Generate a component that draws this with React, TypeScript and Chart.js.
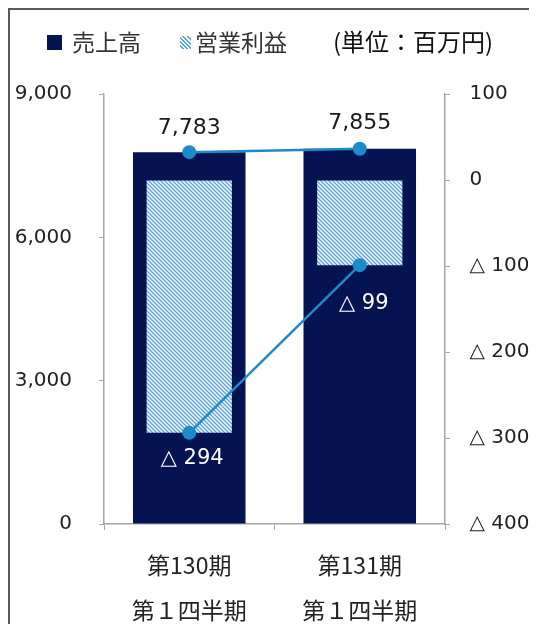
import React, { useEffect, useRef } from "react";
import { Chart, registerables } from "chart.js";

Chart.register(...registerables);

// ---- data ----
const categories = [
  ["第130期", "第１四半期"],
  ["第131期", "第１四半期"],
];
const salesValues = [7783, 7855];
const profitValues = [-294, -99];
const leftTicks = [0, 3000, 6000, 9000];
const rightTicks = [-400, -300, -200, -100, 0, 100];
const legendSales = "売上高";
const legendProfit = "営業利益";
const unitLabel = "(単位：百万円)";

// ---- styles ----
const NAVY = "#061352";
const LINE = "#1b8ccb";
const AXIS = "#a6a6a6";
const TEXT = "#222222";
const TICK_FONT = "'DejaVu Sans', Verdana, sans-serif";
const CJK_FONT = "'Noto Sans CJK JP', 'Noto Sans', sans-serif";

const fmtLeft = (v: number) => v.toLocaleString("en-US");
const fmtRight = (v: number) => (v < 0 ? "△ " + Math.abs(v) : String(v));

function makeHatch(): CanvasPattern | string {
  const c = document.createElement("canvas");
  c.width = 4;
  c.height = 4;
  const g = c.getContext("2d");
  if (!g) return "#8fc0e6";
  g.fillStyle = "#f4f9fd";
  g.fillRect(0, 0, 4, 4);
  g.strokeStyle = "#5aa2dc";
  g.lineWidth = 1.3;
  g.beginPath();
  g.moveTo(-1, -1);
  g.lineTo(5, 5);
  g.moveTo(-1, 3);
  g.lineTo(1, 5);
  g.moveTo(3, -1);
  g.lineTo(5, 1);
  g.stroke();
  return g.createPattern(c, "repeat") || "#8fc0e6";
}

const SALES_LABEL_OFFSETS = [
  [0, -24],
  [0, -25],
];
const PROFIT_LABEL_OFFSETS = [
  [3, 26],
  [4, 38],
];

const valueLabelPlugin = {
  id: "valueLabels",
  afterDatasetsDraw(chart: any) {
    const ctx = chart.ctx as CanvasRenderingContext2D;
    ctx.save();
    ctx.textAlign = "center";
    ctx.textBaseline = "middle";
    const salesMeta = chart.getDatasetMeta(2);
    ctx.font = `22px ${TICK_FONT}`;
    ctx.fillStyle = "#1a1a1a";
    salesMeta.data.forEach((pt: any, i: number) => {
      const [dx, dy] = SALES_LABEL_OFFSETS[i];
      ctx.fillText(fmtLeft(salesValues[i]), pt.x + dx, pt.y + dy);
    });
    const profitMeta = chart.getDatasetMeta(3);
    ctx.font = `21px ${TICK_FONT}`;
    ctx.fillStyle = "#ffffff";
    profitMeta.data.forEach((pt: any, i: number) => {
      const [dx, dy] = PROFIT_LABEL_OFFSETS[i];
      ctx.fillText(fmtRight(profitValues[i]), pt.x + dx, pt.y + dy);
    });
    ctx.restore();
  },
};

export default function App() {
  const canvasRef = useRef<HTMLCanvasElement | null>(null);

  useEffect(() => {
    const canvas = canvasRef.current;
    if (!canvas) return;
    const hatch = makeHatch();
    const chart = new Chart(canvas, {
      type: "bar",
      data: {
        labels: categories as any,
        datasets: [
          {
            type: "bar",
            label: legendSales,
            data: salesValues,
            yAxisID: "y",
            backgroundColor: NAVY,
            barPercentage: 0.66,
            categoryPercentage: 1,
            grouped: false,
            order: 2,
          } as any,
          {
            type: "bar",
            label: legendProfit,
            data: profitValues,
            yAxisID: "y1",
            backgroundColor: hatch,
            barPercentage: 0.5,
            categoryPercentage: 1,
            grouped: false,
            order: 1,
          } as any,
          {
            type: "line",
            label: legendSales + "推移",
            data: salesValues,
            yAxisID: "y",
            borderColor: LINE,
            backgroundColor: LINE,
            borderWidth: 2.5,
            pointRadius: 7,
            pointBorderWidth: 0,
            order: 0,
          } as any,
          {
            type: "line",
            label: legendProfit + "推移",
            data: profitValues,
            yAxisID: "y1",
            borderColor: LINE,
            backgroundColor: LINE,
            borderWidth: 2.5,
            pointRadius: 7,
            pointBorderWidth: 0,
            order: 0,
          } as any,
        ],
      },
      options: {
        responsive: false,
        animation: false,
        layout: { padding: { top: 84, left: 0, right: 0, bottom: 0 } },
        plugins: {
          legend: { display: false },
          tooltip: { enabled: false },
        },
        scales: {
          x: {
            grid: {
              display: true,
              drawOnChartArea: false,
              tickLength: 6,
              color: AXIS,
              offset: true,
            },
            border: { color: AXIS, width: 1.5 },
            ticks: {
              color: TEXT,
              padding: 12.5,
              font: { family: CJK_FONT, size: 23, lineHeight: 45 / 23 },
            },
            afterFit: (s: any) => {
              s.height = 100;
            },
          },
          y: {
            position: "left",
            min: leftTicks[0],
            max: leftTicks[leftTicks.length - 1],
            afterBuildTicks: (s: any) => {
              s.ticks = leftTicks.map((v) => ({ value: v }));
            },
            ticks: {
              color: TEXT,
              padding: 27,
              font: { family: TICK_FONT, size: 20 },
              callback: (v: any) => fmtLeft(Number(v)),
            },
            grid: { drawOnChartArea: false, tickLength: 5, color: AXIS },
            border: { color: AXIS, width: 1.5 },
            afterFit: (s: any) => {
              s.width = 94;
            },
          },
          y1: {
            position: "right",
            min: rightTicks[0],
            max: rightTicks[rightTicks.length - 1],
            afterBuildTicks: (s: any) => {
              s.ticks = rightTicks.map((v) => ({ value: v }));
            },
            ticks: {
              color: TEXT,
              padding: 19.5,
              font: { family: TICK_FONT, size: 20 },
              callback: (v: any) => fmtRight(Number(v)),
            },
            grid: { drawOnChartArea: false, tickLength: 5, color: AXIS },
            border: { color: AXIS, width: 1.5 },
            afterFit: (s: any) => {
              s.width = 84;
            },
          },
        },
      } as any,
      plugins: [valueLabelPlugin],
    });
    return () => chart.destroy();
  }, []);

  const legendText: React.CSSProperties = {
    position: "absolute",
    fontFamily: CJK_FONT,
    fontSize: 23,
    lineHeight: "23px",
    color: "#333",
    whiteSpace: "nowrap",
  };

  return (
    <div
      style={{
        position: "relative",
        width: 521,
        height: 616,
        boxSizing: "border-box",
        borderTop: "2px solid #5a5a5a",
        borderLeft: "2px solid #5a5a5a",
        background: "#fff",
        overflow: "hidden",
      }}
    >
      <div
        style={{
          position: "absolute",
          left: 37,
          top: 25,
          width: 15,
          height: 15,
          background: NAVY,
        }}
      />
      <span style={{ ...legendText, left: 62, top: 20 }}>{legendSales}</span>
      <div
        style={{
          position: "absolute",
          left: 170,
          top: 26,
          width: 11,
          height: 13,
          background:
            "repeating-linear-gradient(45deg, #f4f9fd 0px, #f4f9fd 1.5px, #5aa2dc 1.5px, #5aa2dc 3px)",
        }}
      />
      <span style={{ ...legendText, left: 185, top: 20 }}>{legendProfit}</span>
      <span
        style={{
          ...legendText,
          left: 323,
          top: 19,
          fontSize: 24,
          lineHeight: "24px",
          color: "#111",
        }}
      >
        {unitLabel}
      </span>
      <canvas
        ref={canvasRef}
        width={519}
        height={614}
        style={{ display: "block", width: 519, height: 614 }}
      />
    </div>
  );
}
